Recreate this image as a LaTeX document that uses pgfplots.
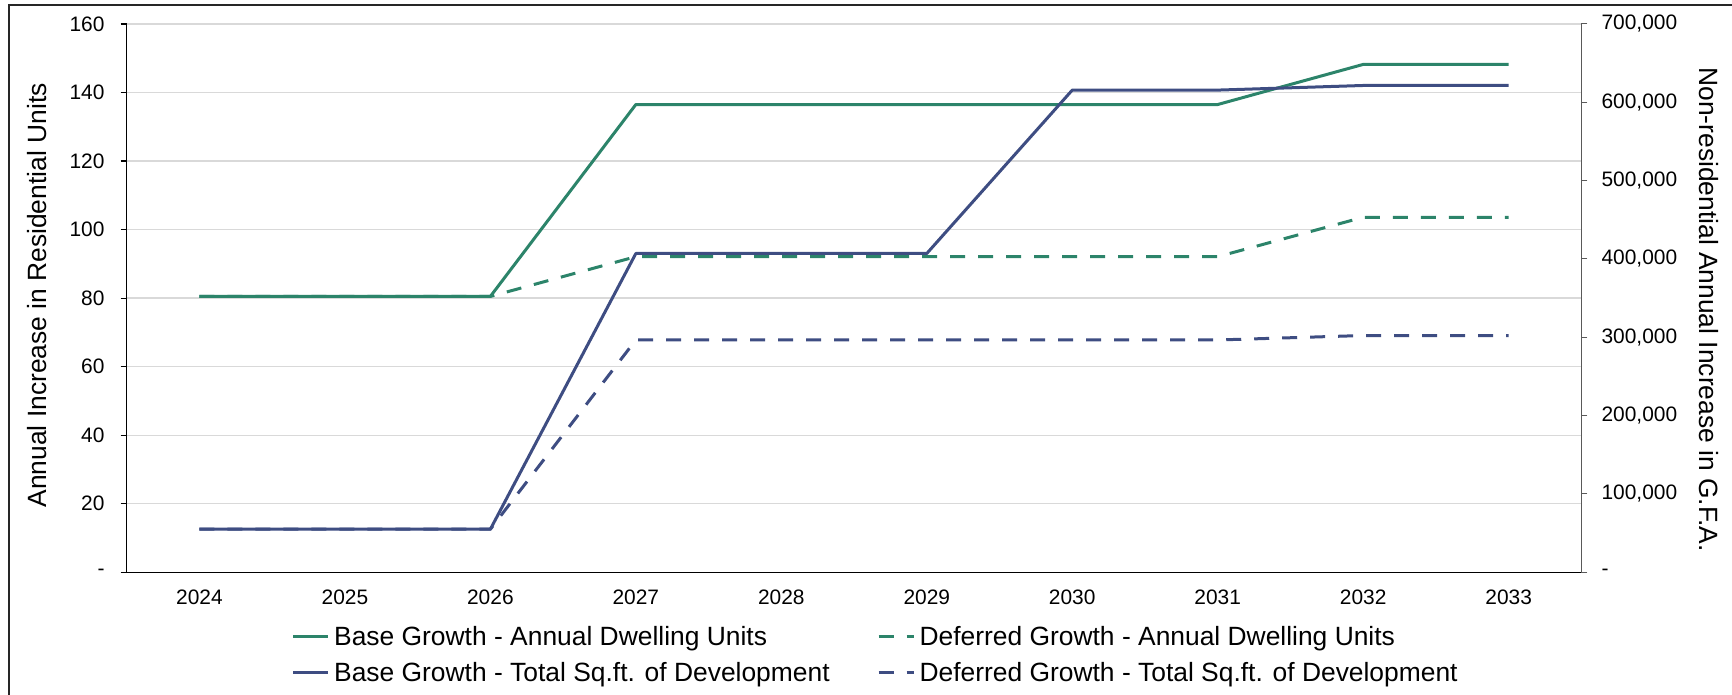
\documentclass[border=0pt]{standalone}
\usepackage{fontspec}
\setmainfont{Liberation Sans}
\usepackage{pgfplots}
\usepackage{pgfplotstable}
\pgfplotsset{compat=1.18}

\definecolor{basegreen}{RGB}{44,132,106}
\definecolor{baseblue}{RGB}{62,77,130}
\definecolor{gridgray}{RGB}{217,217,217}

% Annual growth: dwelling units (left axis) and non-residential G.F.A. in sq.ft. (right axis)
\pgfplotstableread{
idx year dwBase dwDef sfBase sfDef
0 2024 80.5  80.5  55000  55000
1 2025 80.5  80.5  55000  55000
2 2026 80.5  80.5  55000  55000
3 2027 136.5 92.1  407000 296600
4 2028 136.5 92.1  407000 296600
5 2029 136.5 92.1  407000 296600
6 2030 136.5 92.1  615600 296600
7 2031 136.5 92.1  615600 296600
8 2032 148.2 103.6 621500 302300
9 2033 148.2 103.6 621500 302300
}\growthdata

\newcommand{\tickfont}{\fontsize{21}{25}\selectfont}
\newcommand{\labelfont}{\fontsize{26.5}{31}\selectfont}

\pgfplotsset{
  growthframe/.style={
    scale only axis,
    width=1454.6bp, height=548.3bp,
    at={(126.7bp,122.7bp)}, anchor=south west,
    xmin=-0.5, xmax=9.5,
    ymin=0,
    tick align=outside,
    major tick length=6bp,
    /pgf/number format/assume math mode=true,
  },
  solidline/.style={line width=3bp, line join=round, solid},
  dashline/.style={line width=3bp, line join=round, dash pattern=on 15bp off 13bp},
}

\begin{document}
\begin{tikzpicture}[x=1bp,y=1bp]
\useasboundingbox (0,0) rectangle (1732,695);
\draw[black!85, line width=1.2bp] (9,-10) -- (9,690) -- (1745,690);

% left axis: residential units
\begin{axis}[growthframe,
  ymax=160,
  axis y line*=left, axis x line*=bottom,
  axis line style={black, line width=1.3bp},
  xtick={0,...,9},
  xticklabels={2024,2025,2026,2027,2028,2029,2030,2031,2032,2033},
  xtick style={draw=none},
  xticklabel style={font=\tickfont, anchor=north, inner sep=0pt, yshift=-11bp},
  ytick={0,20,...,160},
  yticklabels={-,20,40,60,80,100,120,140,160},
  ytick style={black, line width=1.2bp},
  yticklabel style={font=\tickfont, anchor=east, inner sep=0pt, xshift=-16bp},
  ymajorgrids,
  grid style={gridgray, line width=1.3bp},
  ylabel={Annual Increase in Residential Units},
  ylabel style={font=\labelfont, at={(axis description cs:-0.0617,0.505)}, anchor=center},
]
\addplot[basegreen, solidline] table[x=idx, y=dwBase] {\growthdata};
\addplot[basegreen, dashline] table[x=idx, y=dwDef] {\growthdata};
\end{axis}

% right axis: non-residential G.F.A.
\begin{axis}[growthframe,
  ymax=700000,
  axis y line*=right, axis x line=none,
  axis line style={black!65, line width=1bp},
  xtick=\empty,
  ytick={0,100000,...,700000},
  yticklabels={-,{100,000},{200,000},{300,000},{400,000},{500,000},{600,000},{700,000}},
  scaled y ticks=false,
  ytick style={black!65, line width=1bp},
  yticklabel style={font=\tickfont, anchor=west, inner sep=0pt, xshift=14bp},
  ylabel={Non-residential Annual Increase in G.F.A.},
  ylabel style={font=\labelfont, at={(axis description cs:1.0878,0.479)}, anchor=center, rotate=180},
  legend columns=2,
  legend cell align=left,
  legend image code/.code={\draw[#1] (0bp,0bp) -- (35bp,0bp);},
  legend style={
    draw=none, fill=none, inner sep=0pt, outer sep=0pt,
    font=\labelfont,
    at={(0.1134,-0.0943)}, anchor=north west,
    nodes={inner sep=0pt, text height=21bp, text depth=3bp},
    row sep=12bp,
    /tikz/every odd column/.append style={column sep=4.5bp},
    /tikz/every even column/.append style={column sep=47.4bp},
  },
]
\addlegendimage{basegreen, solidline}
\addlegendentry{Base Growth - Annual Dwelling Units}
\addlegendimage{basegreen, dashline}
\addlegendentry{Deferred Growth - Annual Dwelling Units}
\addplot[baseblue, solidline] table[x=idx, y=sfBase] {\growthdata};
\addlegendentry{Base Growth - Total Sq.ft. of Development}
\addplot[baseblue, dashline] table[x=idx, y=sfDef] {\growthdata};
\addlegendentry{Deferred Growth - Total Sq.ft. of Development}
\end{axis}
\end{tikzpicture}
\end{document}
